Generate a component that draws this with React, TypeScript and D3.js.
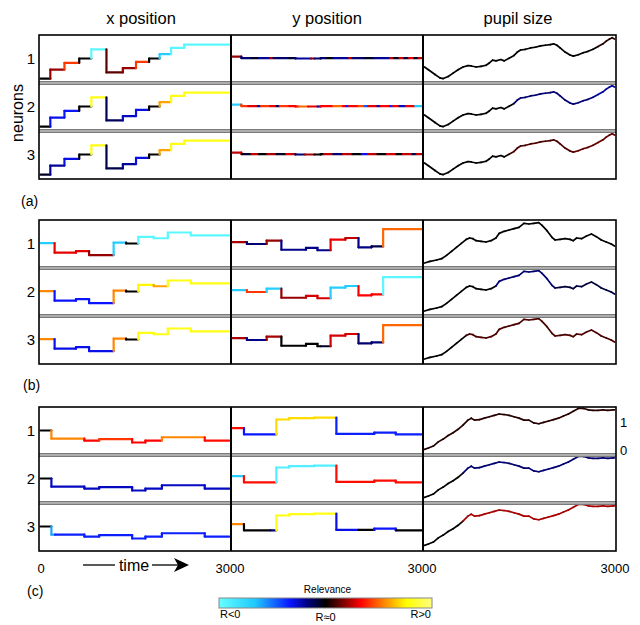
import React, { useEffect, useRef } from 'react';
import * as d3 from 'd3';

const T_MAX = 3000;
const columnTitles = ['x position', 'y position', 'pupil size'];
const groupLabels = ['(a)', '(b)', '(c)'];
const neuronLabels = ['1', '2', '3'];

// input signals, [time, level] (step functions, level relative to row height)
const xPosA = [[0, 0.09], [156, 0.28], [380, 0.42], [615, 0.51], [807, 0.70], [1047, 0.22], [1307, 0.31], [1516, 0.44], [1724, 0.51], [1891, 0.60], [2073, 0.73], [2281, 0.80]];
const yPosA = [[0, 0.55], [140, 0.52], [1000, 0.51], [1400, 0.52]];
const xPosB = [[0, 0.52], [224, 0.32], [563, 0.35], [771, 0.27], [1161, 0.53], [1359, 0.51], [1552, 0.65], [1797, 0.62], [2021, 0.74], [2385, 0.68]];
const yPosB = [[0, 0.54], [229, 0.50], [542, 0.57], [776, 0.38], [1167, 0.42], [1349, 0.37], [1557, 0.59], [1792, 0.625], [2000, 0.43], [2208, 0.45], [2391, 0.81]];
const xPosC = [[0, 0.51], [173, 0.34], [696, 0.30], [932, 0.33], [1455, 0.26], [1665, 0.30], [1927, 0.37], [2607, 0.30]];
const yPosC = [[0, 0.56], [182, 0.43], [696, 0.74], [900, 0.77], [1300, 0.78], [1649, 0.44], [2251, 0.465], [2591, 0.43]];

// pupil size, [time, value]
const pupilA = [[0, 0.333], [62, 0.277], [166, 0.177], [244, 0.106], [296, 0.092], [374, 0.135], [452, 0.206], [530, 0.277], [608, 0.333], [686, 0.362], [738, 0.355], [816, 0.333], [894, 0.348], [972, 0.369], [1024, 0.418], [1076, 0.475], [1128, 0.461], [1206, 0.489], [1258, 0.461], [1336, 0.518], [1414, 0.574], [1466, 0.645], [1518, 0.688], [1596, 0.702], [1674, 0.730], [1752, 0.745], [1830, 0.773], [1908, 0.787], [1986, 0.801], [2038, 0.816], [2090, 0.787], [2142, 0.730], [2220, 0.645], [2298, 0.582], [2350, 0.560], [2428, 0.589], [2506, 0.631], [2584, 0.660], [2662, 0.702], [2740, 0.759], [2818, 0.816], [2870, 0.872], [2922, 0.915], [2964, 0.943], [3000, 0.915]];
const pupilB = [[0, 0.104], [88, 0.139], [192, 0.167], [270, 0.194], [348, 0.264], [426, 0.347], [504, 0.431], [582, 0.514], [660, 0.597], [712, 0.625], [764, 0.611], [816, 0.569], [894, 0.556], [972, 0.542], [1050, 0.569], [1128, 0.625], [1180, 0.722], [1258, 0.764], [1336, 0.792], [1414, 0.819], [1492, 0.847], [1570, 0.931], [1648, 0.917], [1726, 0.931], [1804, 0.944], [1856, 0.889], [1934, 0.778], [2012, 0.639], [2064, 0.583], [2142, 0.597], [2220, 0.611], [2298, 0.597], [2350, 0.569], [2402, 0.625], [2480, 0.611], [2558, 0.667], [2636, 0.708], [2714, 0.653], [2792, 0.583], [2870, 0.542], [2948, 0.5], [3000, 0.458]];
const pupilC = [[0, 0.03], [62, 0.08], [140, 0.15], [218, 0.30], [296, 0.40], [374, 0.53], [452, 0.63], [530, 0.75], [608, 0.90], [686, 1.08], [738, 1.15], [790, 1.08], [868, 1.10], [946, 1.15], [1024, 1.20], [1102, 1.25], [1180, 1.30], [1258, 1.28], [1336, 1.25], [1414, 1.20], [1492, 1.15], [1570, 1.08], [1648, 1.08], [1726, 0.98], [1804, 0.95], [1882, 1.00], [1960, 1.05], [2038, 1.10], [2116, 1.15], [2194, 1.23], [2272, 1.30], [2350, 1.40], [2428, 1.50], [2506, 1.50], [2584, 1.45], [2662, 1.43], [2740, 1.43], [2818, 1.45], [2896, 1.43], [2974, 1.45], [3000, 1.45]];
const pupilCTicks = [0, 1];

// relevance per neuron, [time, R] step functions
const relXPosA = [
  [[0, 0], [156, 0.2], [380, 0.42], [615, 0], [807, -0.95], [1047, 0.12], [1307, 0.2], [1516, 0.42], [1724, 0], [1891, -0.7], [2073, -0.95]],
  [[0, 0], [156, -0.3], [380, -0.33], [615, 0], [807, 0.8], [1047, -0.12], [1307, -0.25], [1516, -0.3], [1724, 0], [1891, 0.6], [2073, 0.8]],
  [[0, -0.05], [156, -0.2], [380, -0.3], [615, 0], [807, 0.8], [1047, -0.1], [1307, -0.2], [1516, -0.3], [1724, 0], [1891, 0.6], [2073, 0.8]],
];
const relYPosA = [
  [[0, 0.2], [140, -0.15], [300, -0.05], [420, -0.2], [600, 0.22], [650, -0.15], [900, -0.05], [1000, -0.2], [1250, 0.2], [1300, -0.15], [1500, 0], [1600, -0.2], [1850, 0.25], [1900, -0.15], [2100, -0.05], [2250, -0.2], [2500, 0.25], [2560, -0.05], [2650, 0.28], [2720, -0.1], [2800, 0.3], [2880, -0.05], [2950, 0.25]],
  [[0, -0.7], [140, 0.42], [250, 0.3], [400, -0.2], [450, 0.42], [600, 0.3], [700, -0.12], [750, 0.42], [900, 0.33], [1050, 0.5], [1200, 0.3], [1350, -0.2], [1400, 0.33], [1600, 0.5], [1750, 0.33], [1800, -0.35], [1850, 0.33], [2000, 0.45], [2100, -0.45], [2150, 0.3], [2300, -0.25], [2350, 0.33], [2500, -0.35], [2550, 0.33], [2650, -0.25], [2750, 0.3], [2900, -0.7]],
  [[0, 0.25], [150, -0.05], [300, 0.25], [420, 0], [550, 0.22], [700, -0.05], [850, 0.28], [1000, -0.15], [1150, 0.22], [1300, 0], [1450, 0.25], [1600, -0.15], [1750, 0.25], [1900, 0], [2050, -0.3], [2150, 0.25], [2300, 0], [2450, 0.28], [2600, 0], [2700, 0.25], [2850, -0.1], [2920, 0.25]],
];
const relPupilA = [
  [[0, 0], [2700, 0.05]],
  [[0, 0], [1400, -0.15], [2600, -0.2]],
  [[0, 0], [1300, 0.1], [2300, 0.13]],
];
const relXPosB = [
  [[0, -0.7], [224, 0.3], [771, 0.2], [1161, -0.7], [1359, 0], [1552, -0.95]],
  [[0, 0.55], [224, -0.33], [1161, 0.55], [1359, 0], [1552, 0.75], [1797, 0.6], [2021, 0.8]],
  [[0, 0.55], [224, -0.3], [1161, 0.55], [1359, 0], [1552, 0.8]],
];
const relYPosB = [
  [[0, 0.22], [229, -0.15], [542, 0.2], [776, -0.18], [1557, 0.3], [1792, 0.25], [2000, -0.18], [2208, -0.1], [2391, 0.5]],
  [[0, -0.7], [229, 0.42], [542, -0.7], [776, 0.2], [1167, 0.28], [1557, -0.7], [2000, 0.33], [2391, -0.95]],
  [[0, 0.22], [229, -0.18], [542, 0.22], [776, 0], [1400, -0.05], [1557, 0.28], [2000, -0.15], [2391, 0.5]],
];
const relPupilB = [
  [[0, 0]],
  [[0, 0], [1100, -0.15], [2050, -0.08]],
  [[0, 0], [600, 0.1]],
];
const relXPosC = [
  [[0, 0], [173, 0.55], [696, 0.33], [932, 0.42], [1455, 0.33], [1927, 0.55], [2607, 0.35]],
  [[0, 0], [173, -0.25]],
  [[0, 0], [173, -0.6], [230, -0.35]],
];
const relYPosC = [
  [[0, 0.35], [182, -0.33], [696, 0.7], [1649, -0.35]],
  [[0, -0.7], [182, 0.35], [696, -0.9], [1649, 0.35]],
  [[0, 0.55], [182, 0], [600, -0.15], [696, 0.8], [1649, -0.3], [2000, 0], [2250, -0.33], [2600, 0]],
];
const relPupilC = [
  [[0, 0.05]],
  [[0, 0], [600, -0.15]],
  [[0, 0], [600, 0.22]],
];

// colour map of the relevance bar
const relevanceStops = [-1, -0.66, -0.33, -0.17, 0, 0.17, 0.33, 0.56, 0.76, 1];
const relevanceColors = ['#66ffff', '#1ec8ff', '#0a14ff', '#000080', '#000000', '#800000', '#ff0000', '#ff8c00', '#ffff00', '#ffff80'];

const FONT = '"Liberation Sans", Arial, Helvetica, sans-serif';

function valueAt(steps, t) {
  let v = steps[0][1];
  for (const s of steps) if (s[0] <= t) v = s[1];
  return v;
}

function App() {
  const svgRef = useRef(null);

  useEffect(() => {
    const svg = d3.select(svgRef.current);
    svg.selectAll('*').remove();

    const color = d3.scaleLinear().domain(relevanceStops).range(relevanceColors).clamp(true);

    const colEdges = [39, 231, 423, 616];
    const groupTops = [35, 220, 407];
    const groupH = 144;
    const rowH = groupH / 3;

    const groups = [
      { step: [xPosA, yPosA], rel: [relXPosA, relYPosA, relPupilA], pupil: pupilA, pupilDomain: [0, 1] },
      { step: [xPosB, yPosB], rel: [relXPosB, relYPosB, relPupilB], pupil: pupilB, pupilDomain: [0, 1] },
      { step: [xPosC, yPosC], rel: [relXPosC, relYPosC, relPupilC], pupil: pupilC, pupilDomain: [-0.17, 1.55] },
    ];

    const xScales = [0, 1, 2].map(c =>
      d3.scaleLinear().domain([0, T_MAX]).range([colEdges[c] + 1.5, colEdges[c + 1] - 1.5]));

    // column titles
    const titleX = [141, 327, 518];
    svg.selectAll('.title')
      .data(columnTitles)
      .join('text')
      .attr('x', (d, i) => titleX[i])
      .attr('y', 24)
      .attr('text-anchor', 'middle')
      .style('font', `16.5px ${FONT}`)
      .text(d => d);

    svg.append('text')
      .attr('transform', 'translate(17,113) rotate(-90)')
      .attr('text-anchor', 'middle')
      .attr('dy', '0.35em')
      .style('font', `16px ${FONT}`)
      .text('neurons');

    const labelPos = [[21, 206], [23, 390], [27, 596]];

    groups.forEach((grp, gi) => {
      const top = groupTops[gi];
      const g = svg.append('g');

      for (let r = 0; r < 3; r++) {
        const rowTop = top + r * rowH;
        const rowBottom = rowTop + rowH;

        for (let c = 0; c < 3; c++) {
          const x = xScales[c];
          const rel = grp.rel[c][r];
          let segs = [];

          if (c < 2) {
            const signal = grp.step[c];
            const y = d3.scaleLinear().domain([0, 1]).range([rowBottom, rowTop]);
            const times = Array.from(new Set([...signal.map(d => d[0]), ...rel.map(d => d[0]), T_MAX])).sort((a, b) => a - b);
            for (let k = 0; k < times.length - 1; k++) {
              const t0 = times[k], t1 = times[k + 1];
              const v0 = valueAt(signal, t0);
              segs.push({ x1: x(t0), y1: y(v0), x2: x(t1), y2: y(v0), r: valueAt(rel, t0) });
              if (t1 < T_MAX) {
                const v1 = valueAt(signal, t1);
                if (v1 !== v0) segs.push({ x1: x(t1), y1: y(v0), x2: x(t1), y2: y(v1), r: valueAt(rel, t1) });
              }
            }
          } else {
            const y = d3.scaleLinear().domain(grp.pupilDomain).range([rowBottom, rowTop]);
            const pts = grp.pupil;
            for (let k = 0; k < pts.length - 1; k++) {
              segs.push({ x1: x(pts[k][0]), y1: y(pts[k][1]), x2: x(pts[k + 1][0]), y2: y(pts[k + 1][1]), r: valueAt(rel, pts[k][0]) });
            }
            if (gi === 2 && r === 0) {
              const axis = g.append('g')
                .attr('transform', `translate(${colEdges[3]},0)`)
                .call(d3.axisRight(y).tickValues(pupilCTicks).tickFormat(d3.format('d')).tickSize(0).tickPadding(4));
              axis.select('.domain').remove();
              axis.selectAll('text').style('font', `13px ${FONT}`).attr('fill', '#000');
            }
          }

          g.append('g')
            .selectAll('line')
            .data(segs)
            .join('line')
            .attr('x1', d => d.x1)
            .attr('y1', d => d.y1)
            .attr('x2', d => d.x2)
            .attr('y2', d => d.y2)
            .attr('stroke', d => color(d.r))
            .attr('stroke-width', c < 2 ? 2.2 : 1.7)
            .attr('stroke-linecap', 'round');
        }

        g.append('text')
          .attr('x', 31)
          .attr('y', rowTop + rowH / 2)
          .attr('dy', '0.36em')
          .attr('text-anchor', 'middle')
          .style('font', `15px ${FONT}`)
          .text(neuronLabels[r]);
      }

      // row separators
      [1, 2].forEach(k => {
        const yy = top + k * rowH;
        g.append('rect')
          .attr('x', colEdges[0]).attr('y', yy - 2)
          .attr('width', colEdges[3] - colEdges[0]).attr('height', 4)
          .attr('fill', '#7a7a7a');
        g.append('rect')
          .attr('x', colEdges[0]).attr('y', yy - 0.6)
          .attr('width', colEdges[3] - colEdges[0]).attr('height', 1.2)
          .attr('fill', '#cfcfcf');
      });

      // column dividers and frame
      [1, 2].forEach(k => {
        g.append('line')
          .attr('x1', colEdges[k]).attr('x2', colEdges[k])
          .attr('y1', top).attr('y2', top + groupH)
          .attr('stroke', '#000').attr('stroke-width', 2);
      });
      g.append('rect')
        .attr('x', colEdges[0]).attr('y', top)
        .attr('width', colEdges[3] - colEdges[0]).attr('height', groupH)
        .attr('fill', 'none').attr('stroke', '#000').attr('stroke-width', 1.6);

      g.append('text')
        .attr('x', labelPos[gi][0])
        .attr('y', labelPos[gi][1])
        .style('font', `14px ${FONT}`)
        .text(groupLabels[gi]);
    });

    // time axis labels
    const bottom = groupTops[2] + groupH;
    xScales.forEach((x, c) => {
      const ax = svg.append('g')
        .attr('transform', `translate(0,${bottom})`)
        .call(d3.axisBottom(x).tickValues(c === 0 ? [0, T_MAX] : [T_MAX]).tickFormat(d3.format('d')).tickSize(0).tickPadding(13));
      ax.select('.domain').remove();
      ax.selectAll('text').style('font', `13px ${FONT}`).attr('fill', '#000');
    });

    svg.append('line').attr('x1', 83).attr('x2', 115).attr('y1', 565).attr('y2', 565)
      .attr('stroke', '#000').attr('stroke-width', 1.3);
    svg.append('text').attr('x', 134).attr('y', 571).attr('text-anchor', 'middle')
      .style('font', `16px ${FONT}`).text('time');
    svg.append('line').attr('x1', 152).attr('x2', 180).attr('y1', 565).attr('y2', 565)
      .attr('stroke', '#000').attr('stroke-width', 1.3);
    svg.append('path').attr('d', 'M189,565 L174,558 L178,565 L174,572 Z').attr('fill', '#000');

    // relevance colour bar
    const defs = svg.append('defs');
    const grad = defs.append('linearGradient').attr('id', 'relgrad');
    grad.selectAll('stop')
      .data(relevanceStops)
      .join('stop')
      .attr('offset', d => `${((d + 1) / 2) * 100}%`)
      .attr('stop-color', d => color(d));
    const barX = d3.scaleLinear().domain([-1, 1]).range([219, 432]);
    svg.append('rect')
      .attr('x', barX(-1)).attr('y', 598)
      .attr('width', barX(1) - barX(-1)).attr('height', 10)
      .attr('fill', 'url(#relgrad)')
      .attr('stroke', '#888').attr('stroke-width', 1);
    svg.append('text').attr('x', barX(0) + 2).attr('y', 593).attr('text-anchor', 'middle')
      .style('font', `10px ${FONT}`).text('Relevance');
    svg.append('text').attr('x', barX(-1) + 1).attr('y', 618).attr('text-anchor', 'start')
      .style('font', `11px ${FONT}`).text('R<0');
    svg.append('text').attr('x', barX(0)).attr('y', 621).attr('text-anchor', 'middle')
      .style('font', `11px ${FONT}`).text('R≈0');
    svg.append('text').attr('x', barX(1) - 1).attr('y', 618).attr('text-anchor', 'end')
      .style('font', `11px ${FONT}`).text('R>0');
  }, []);

  return (
    <svg ref={svgRef} width={640} height={625}
      style={{ position: 'absolute', left: 0, top: 0, background: '#fff' }}></svg>
  );
}

export default App;
